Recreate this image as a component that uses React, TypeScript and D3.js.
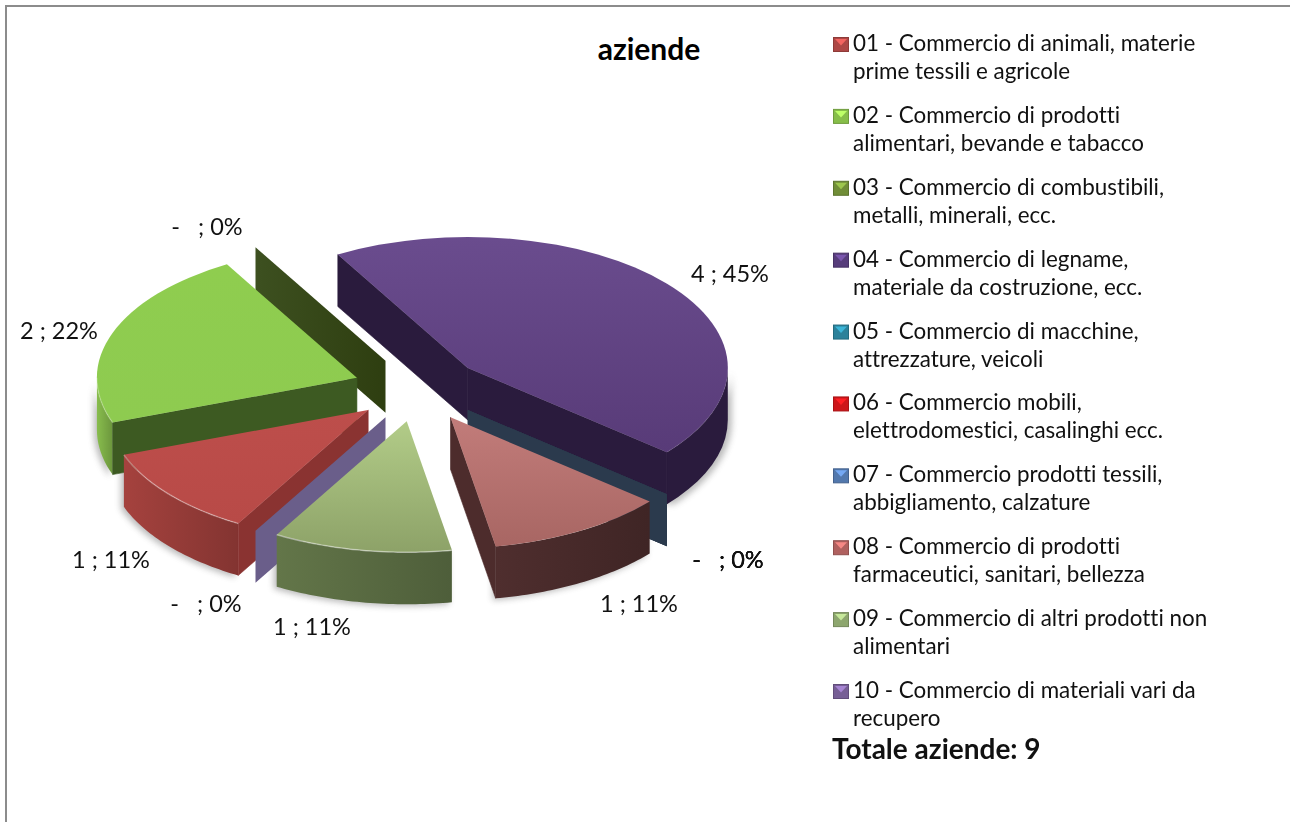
import React from 'react';
import * as d3 from 'd3';

const categories = [
  ['01 - Commercio di animali, materie', 'prime tessili e agricole'],
  ['02 - Commercio di prodotti', 'alimentari, bevande e tabacco'],
  ['03 - Commercio di combustibili,', 'metalli, minerali, ecc.'],
  ['04 - Commercio di legname,', 'materiale da costruzione, ecc.'],
  ['05 - Commercio di macchine,', 'attrezzature, veicoli'],
  ['06 - Commercio mobili,', 'elettrodomestici, casalinghi ecc.'],
  ['07 - Commercio prodotti tessili,', 'abbigliamento, calzature'],
  ['08 - Commercio di prodotti', 'farmaceutici, sanitari, bellezza'],
  ['09 - Commercio di altri prodotti non', 'alimentari'],
  ['10 - Commercio di materiali vari da', 'recupero'],
];
const values = [1, 2, 0, 4, 0, 0, 0, 1, 1, 0];
const sliceLabels = ['1 ; 11%', '2 ; 22%', '-   ; 0%', '4 ; 45%', '-   ; 0%', '-   ; 0%', '-   ; 0%', '1 ; 11%', '1 ; 11%', '-   ; 0%'];
const labelX = [111, 59, 207, 730, 728, 728, 728, 639, 312, 206];
const labelY = [568, 339, 235, 282, 568, 568, 568, 612, 635, 612];
const topColors = ['#bd4e4b', '#8fcd4f', '#3a4c1c', '#6a4c8e', '#2b7f96', '#d8181c', '#5079b5', '#c27c7a', '#b2cc88', '#7d6a9c'];
const topColors2 = ['#b84a47', '#8ecb50', '#3a4c1c', '#583b78', '#2b7f96', '#d8181c', '#5079b5', '#a86663', '#8da268', '#7d6a9c'];
const rimColors = ['#9a3d3a', '#7fb048', '#34441a', '#2a1b3d', '#2b3a4d', '#2b3a4d', '#2b3a4d', '#4a2b2b', '#5c6e44', '#6a5e8a'];
const cutColors = ['#8a3331', '#3d5a22', '#36481a', '#2a1b3d', '#2b3a4d', '#2b3a4d', '#2b3a4d', '#4d2c2c', '#5f7146', '#6a5e8a'];
const rimHighlight = [0.3, 0.2, 0, 0.04, 0, 0, 0, 0, 0.4, 0];
const legendColors = ['#bd4e4b', '#94d051', '#7a9a3c', '#5f4387', '#2f8da8', '#e0181c', '#5a83bd', '#c06a68', '#9ab578', '#8268a4'];

const W = 1290;
const H = 822;
const cx = 418;
const cy = 389;
const rx = 260;
const ry = 131;
const depth = 52;
const explode = 0.25;

const rad = (deg: number) => deg * Math.PI / 180;
const sx = d3.scaleLinear().domain([-1, 1]).range([cx - rx, cx + rx]);
const sy = d3.scaleLinear().domain([-1, 1]).range([cy - ry, cy + ry]);

const pie = d3.pie<number>().sort(null).startAngle(rad(210)).endAngle(rad(570));
const arcs = pie(values);
const unit = d3.arc<any>().innerRadius(0).outerRadius(1);

// every slice is moved out along its bisector, then projected on the ellipse
const tip = (a: any) => {
  const m = (a.startAngle + a.endAngle) / 2;
  return [explode * Math.sin(m), -explode * Math.cos(m)];
};
const px = (a: any, t: number, r = 1) => sx(tip(a)[0] + r * Math.sin(t));
const py = (a: any, t: number, r = 1) => sy(tip(a)[1] - r * Math.cos(t));

const cutPath = (a: any, t: number) => {
  const x0 = px(a, t, 0), y0 = py(a, t, 0), x1 = px(a, t), y1 = py(a, t);
  return `M${x0},${y0}L${x1},${y1}L${x1},${y1 + depth}L${x0},${y0 + depth}Z`;
};

const rimPoints = (a: any) => {
  // only the part of the rim that faces the viewer
  const out: number[] = [];
  const n = 40;
  d3.range(n + 1).forEach((i) => {
    const t = a.startAngle + (a.endAngle - a.startAngle) * i / n;
    if (Math.cos(t) < 0) out.push(t);
  });
  return out;
};
const line = d3.line<[number, number]>();
const rimPath = (a: any) => {
  const ts = rimPoints(a);
  if (!ts.length) return '';
  const top = ts.map((t) => [px(a, t), py(a, t)] as [number, number]);
  const bottom = ts.map((t) => [px(a, t), py(a, t) + depth] as [number, number]).reverse();
  return line(top.concat(bottom)) + 'Z';
};
const rimEdge = (a: any) => {
  const ts = rimPoints(a);
  return ts.length ? line(ts.map((t) => [px(a, t), py(a, t)] as [number, number])) || '' : '';
};

// back slices first, the lilac wall sits over the red side and under the olive slice
const order = [3, 4, 5, 6, 2, 1, 7, 0, 9, 8];

const Slice = ({ i }: { i: number }) => {
  const a = arcs[i];
  if (values[i] === 0) {
    return <path d={cutPath(a, a.startAngle)} fill={i === 2 ? `url(#wall${i})` : cutColors[i]} />;
  }
  const normalStart = a.startAngle - Math.PI / 2;
  const normalEnd = a.endAngle + Math.PI / 2;
  const seam = { stroke: cutColors[i], strokeWidth: 0.6 };
  return (
    <g>
      <path d={rimPath(a)} fill={`url(#rim${i})`} />
      {Math.cos(normalStart) < 0 && <path d={cutPath(a, a.startAngle)} fill={cutColors[i]} {...seam} />}
      {Math.cos(normalEnd) < 0 && <path d={cutPath(a, a.endAngle)} fill={cutColors[i]} {...seam} />}
      <path
        d={unit(a) || ''}
        transform={`translate(${sx(tip(a)[0])},${sy(tip(a)[1])}) scale(${rx},${ry})`}
        fill={`url(#top${i})`}
      />
      {rimHighlight[i] > 0 && (
        <path d={rimEdge(a)} fill="none" stroke="#fff" strokeOpacity={rimHighlight[i]} strokeWidth={1.5} />
      )}
    </g>
  );
};

const font = 'Lato, "Open Sans", sans-serif';
const rowY = d3.scaleLinear().domain([0, 9]).range([51, 698]);

export default function App() {
  return (
    <svg
      width={W}
      height={H}
      style={{ position: 'absolute', left: 0, top: 0, display: 'block', fontVariantLigatures: 'none' }}
      fontFamily={font}
    >
      <defs>
        <filter id="soft" x="-10%" y="-10%" width="120%" height="120%">
          <feGaussianBlur stdDeviation="3" />
        </filter>
        <linearGradient id="wall2" x1="0" y1="0" x2="1" y2="0">
          <stop offset="0" stopColor="#3d5020" />
          <stop offset="1" stopColor="#2e3e10" />
        </linearGradient>
        {values.map((_, i) => (
          <linearGradient key={i} id={`top${i}`} x1="0" y1="0" x2="0" y2="1">
            <stop offset="0" stopColor={topColors[i]} />
            <stop offset="1" stopColor={topColors2[i]} />
          </linearGradient>
        ))}
        {values.map((_, i) => (
          <linearGradient key={i} id={`rim${i}`} x1="0" y1="0" x2="1" y2="0">
            <stop offset="0" stopColor={i === 3 ? rimColors[i] : d3.color(rimColors[i])!.brighter(0.2).formatHex()} />
            <stop offset="1" stopColor={i === 3 ? rimColors[i] : d3.color(rimColors[i])!.darker(0.45).formatHex()} />
          </linearGradient>
        ))}
      </defs>
      <rect x={0} y={0} width={W} height={H} fill="#fff" />
      <rect x={6} y={6} width={W + 10} height={H + 10} fill="#fff" stroke="#8c8c8c" strokeWidth={2} />

      <text x={649} y={60} textAnchor="middle" fontSize={30} fontWeight={700}>aziende</text>

      {/* soft shadow below the pie */}
      <g filter="url(#soft)" opacity={0.4}>
        {[0, 1, 3, 7, 8].map((i) => <path key={i} d={rimPath(arcs[i])} fill="#555" transform="translate(-3,2)" />)}
        <path d={rimPath(arcs[3])} fill="#555" transform="translate(4,2)" />
      </g>
      {order.map((i) => <Slice key={i} i={i} />)}

      {sliceLabels.map((s, i) => (
        <text key={i} x={labelX[i]} y={labelY[i]} textAnchor="middle" fontSize={23.5} fill="#111" style={{ whiteSpace: 'pre' }}>{s}</text>
      ))}

      {categories.map((lines, i) => (
        <g key={i}>
          <rect
            x={833.5}
            y={rowY(i) - 13.5}
            width={15}
            height={14}
            fill={d3.color(legendColors[i])!.darker(0.25).formatHex()}
            stroke={d3.color(legendColors[i])!.darker(0.8).formatHex()}
          />
          <path
            d={`M835,${rowY(i) - 12}h12l-6,6.5Z`}
            fill={d3.color(legendColors[i])!.brighter(0.7).formatHex()}
          />
          <text x={853} y={rowY(i)} fontSize={22.4} fill="#111">{lines[0]}</text>
          <text x={853} y={rowY(i) + 28} fontSize={22.4} fill="#111">{lines[1]}</text>
        </g>
      ))}
      <text x={832} y={759} fontSize={28} fontWeight={700} fill="#111">Totale aziende: 9</text>
    </svg>
  );
}
